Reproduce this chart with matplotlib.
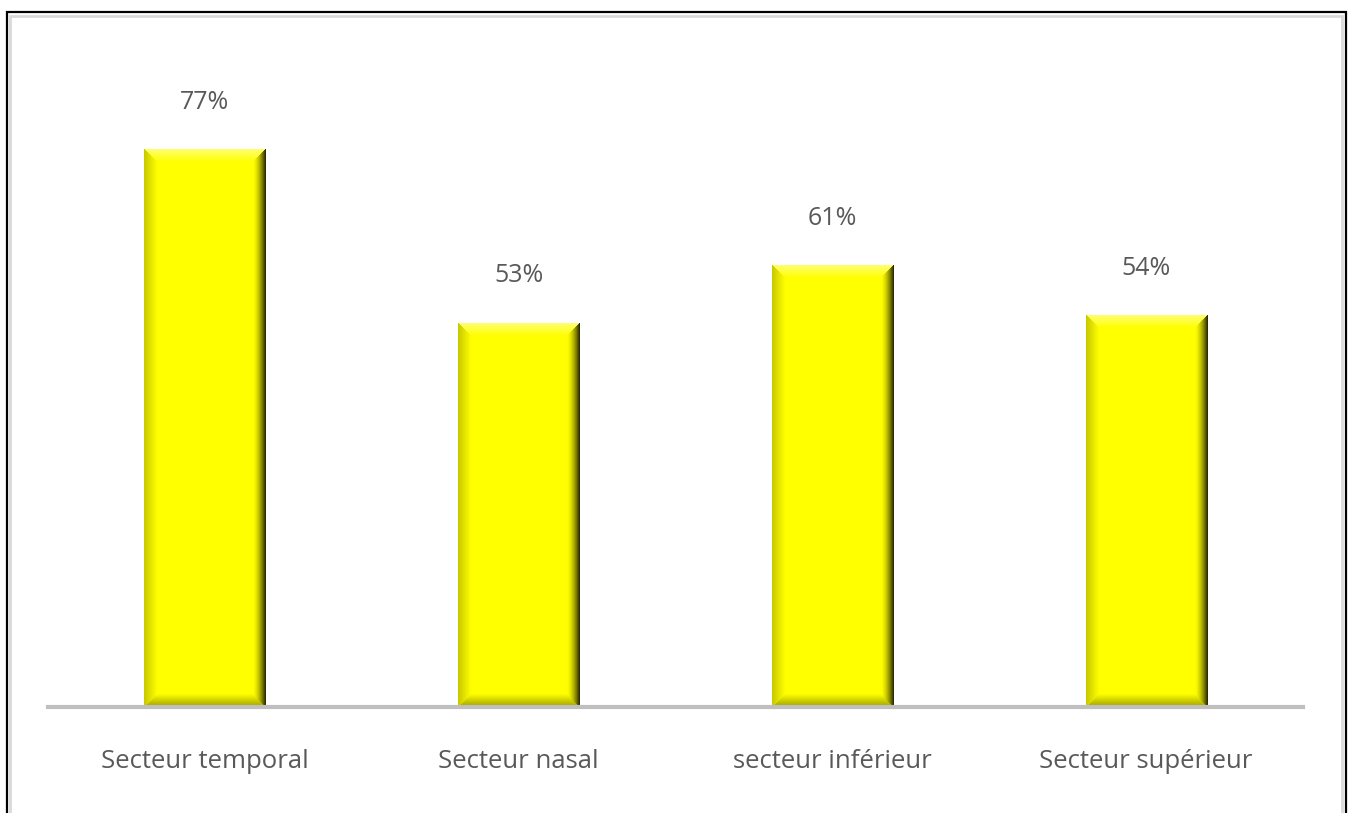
import numpy as np
import matplotlib.pyplot as plt
from matplotlib.patches import Rectangle

categories = ['Secteur temporal', 'Secteur nasal', 'secteur inférieur', 'Secteur supérieur']
values = [0.77, 0.53, 0.61, 0.54]
labels = ['77%', '53%', '61%', '54%']

plt.rcParams['font.family'] = ['Open Sans', 'DejaVu Sans']
text_color = '#595959'

fig = plt.figure(figsize=(13.51, 8.13), dpi=100)
ax = fig.add_axes([48 / 1351, 106 / 813, 1255 / 1351, 688 / 813])

x = np.arange(len(categories))
bars = ax.bar(x, values, width=0.386, color='#FFFF00', zorder=2)
ax.set_xlim(-0.5, len(categories) - 0.5)
ax.set_ylim(0, 0.95)


def bevel_image(w_px, h_px, b=13):
    # rgb gradient image giving the bevelled look of the bars
    nx, ny = int(round(w_px)), max(int(round(h_px)), 2 * b + 2)
    xx, yy = np.meshgrid(np.arange(nx) + 0.5, np.arange(ny) + 0.5)
    d = np.stack([xx, nx - xx, yy, ny - yy])
    side = d.argmin(axis=0)
    t = np.clip(1 - d.min(axis=0) / b, 0, 1)  # 1 at the edge, 0 inside
    img = np.zeros((ny, nx, 3))
    img[..., 0] = 1.0
    img[..., 1] = 1.0
    edge = {
        0: (0.78, 0.78, 0.0),   # left
        1: (0.12, 0.12, 0.0),   # right
        2: (1.0, 1.0, 0.45),    # top
        3: (0.62, 0.62, 0.0),   # bottom
    }
    for s, col in edge.items():
        m = (side == s) & (t > 0)
        tt = t[m] ** (1.6 if s == 1 else 1.0)
        for c in range(3):
            base = 1.0 if c < 2 else 0.0
            img[..., c][m] = base + (col[c] - base) * tt
    return img


for bar, lab in zip(bars, labels):
    x0, w, h = bar.get_x(), bar.get_width(), bar.get_height()
    p0 = ax.transData.transform((x0, 0))
    p1 = ax.transData.transform((x0 + w, h))
    img = bevel_image(p1[0] - p0[0], p1[1] - p0[1])
    ax.imshow(img, extent=(x0, x0 + w, 0, h), aspect='auto',
              interpolation='bilinear', zorder=3)
    ax.annotate(lab, (x0 + w / 2, h), xytext=(0, 34), textcoords='offset points',
                ha='center', va='center', fontsize=18, color=text_color)

ax.set_xlim(-0.5, len(categories) - 0.5)
ax.set_ylim(0, 0.95)
ax.set_xticks(x)
ax.set_xticklabels(categories, fontsize=18.5, color=text_color)
ax.tick_params(axis='x', length=0, pad=30)
ax.set_yticks([])
for s in ['top', 'left', 'right']:
    ax.spines[s].set_visible(False)
ax.spines['bottom'].set_color('#BFBFBF')
ax.spines['bottom'].set_linewidth(3)
ax.spines['bottom'].set_zorder(4)

# frame around the chart, cut at the bottom edge
fig.add_artist(Rectangle((10 / 1351, -0.1), 1332 / 1351, 1.1 - 16 / 813,
                         transform=fig.transFigure, fill=False,
                         edgecolor='#D9D9D9', lw=2))
fig.add_artist(Rectangle((6.5 / 1351, -0.1), 1339 / 1351, 1.1 - 12.5 / 813,
                         transform=fig.transFigure, fill=False,
                         edgecolor='black', lw=1.6))

fig.savefig('out.png', dpi=100)
